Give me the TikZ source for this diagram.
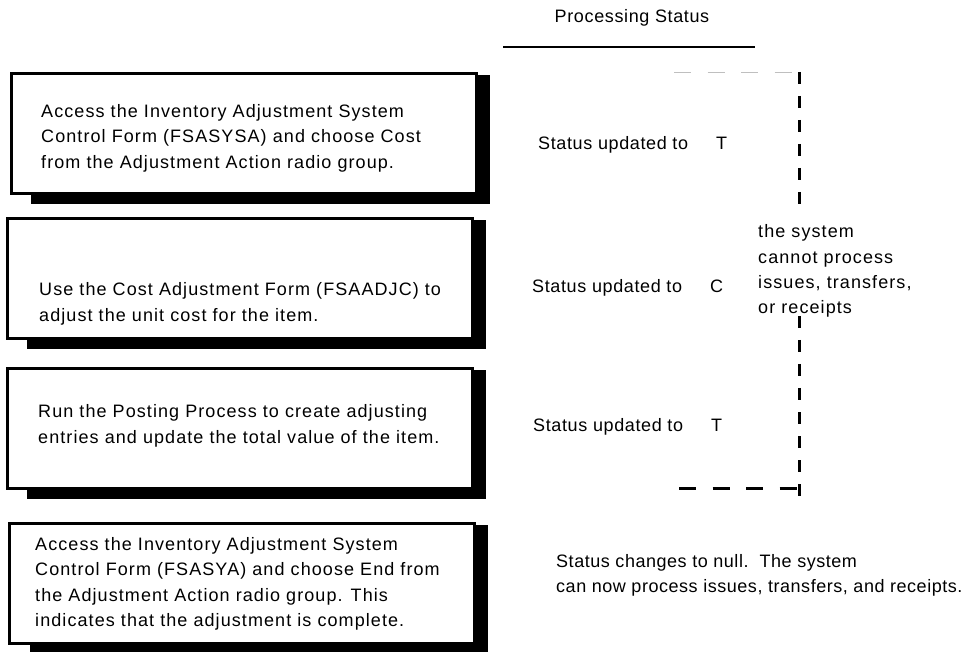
\documentclass[tikz,border=0pt]{standalone}
\usepackage{fontspec}
\setmainfont{Liberation Sans}
\newfontfamily\steptextfont{Liberation Sans}[LetterSpace=6]
\newfontfamily\statusfont{Liberation Sans}[LetterSpace=3.5]
\newfontfamily\notefont{Liberation Sans}[LetterSpace=3]
\newfontfamily\lockfont{Liberation Sans}[LetterSpace=6]
\usetikzlibrary{calc}
\newcommand{\updatedto}[1]{\makebox[178pt][l]{Status updated to}#1}
\begin{document}
\begin{tikzpicture}[x=1pt, y=-1pt,
  stepbox/.style={draw, line width=3pt, fill=white, minimum width=465pt,
    minimum height=120pt, anchor=north west, inner sep=0pt},
  boxtext/.style={anchor=west, align=left, inner sep=0pt,
    font=\steptextfont\fontsize{18}{25.5}\selectfont},
  statustext/.style={anchor=west, align=left, inner sep=0pt,
    font=\statusfont\fontsize{18}{25.5}\selectfont},
  notetext/.style={anchor=west, align=left, inner sep=0pt,
    font=\notefont\fontsize{18}{25}\selectfont},
  locktext/.style={anchor=west, align=left, inner sep=0pt,
    font=\lockfont\fontsize{18}{25.2}\selectfont},
  blackdash/.style={line width=3pt, dash pattern=on 12pt off 12pt},
  hdash/.style={line width=3pt, dash pattern=on 17pt off 16.5pt},
  greydash/.style={line width=1pt, draw=black!25, dash pattern=on 17pt off 16.5pt}]
\useasboundingbox (0,0) rectangle (967,652);

% heading
\node[statustext, anchor=base] (head) at (632,23) {Processing Status};
\coordinate (ulL) at (503,47);
\coordinate (ulR) at (755,47);
\draw[line width=2pt] (ulL) -- (ulR);

% step boxes, each over its drop shadow
\node[stepbox] (b1) at (10,72) {};
\node[stepbox] (b2) at (6,217) {};
\node[stepbox] (b3) at (6,367) {};
\node[stepbox] (b4) at (8,522) {};
\foreach \b/\dx in {b1/21, b2/21, b3/21, b4/22}{
  \fill ($(\b.south west)+(\dx,9)$) rectangle ($(\b.north east)+(12,3)$);
  \node[stepbox] at (\b.north west) {};
}

% step texts
\node[boxtext] (t1) at (41,138) {Access the Inventory Adjustment System\\Control Form (FSASYSA) and choose Cost\\from the Adjustment Action radio group.};
\node[boxtext] (t2) at (39,304) {Use the Cost Adjustment Form (FSAADJC) to\\adjust the unit cost for the item.};
\node[boxtext] (t3) at (38,426) {Run the Posting Process to create adjusting\\entries and update the total value of the item.};
\node[boxtext] (t4) at (35,584) {Access the Inventory Adjustment System\\Control Form (FSASYA) and choose End from\\the Adjustment Action radio group. This\\indicates that the adjustment is complete.};

% processing status for each step
\node[statustext] (s1) at (538,145) {\updatedto{T}};
\node[statustext] (s2) at (532,288) {\updatedto{C}};
\node[statustext] (s3) at (533,427) {\updatedto{T}};
\node[notetext] (s4) at (556,575) {Status changes to null.\ \ The system\\can now process issues, transfers, and receipts.};
\node[locktext] (lock) at (758,271) {the system\\cannot process\\issues, transfers,\\or receipts};

% bracket marking the locked period
\coordinate (gA) at (674,72.5);
\coordinate (gB) at (793,72.5);
\coordinate (vA) at (799,72);
\coordinate (vB) at (799,205);
\coordinate (vC) at (799,316);
\coordinate (vD) at (799,504);
\coordinate (hA) at (679,488);
\coordinate (hB) at (800.5,488);
\draw[greydash] (gA) -- (gB);
\draw[blackdash] (vA) -- (vB);
\draw[blackdash] (vC) -- (vD);
\draw[hdash] (hA) -- (hB);
\end{tikzpicture}
\end{document}
